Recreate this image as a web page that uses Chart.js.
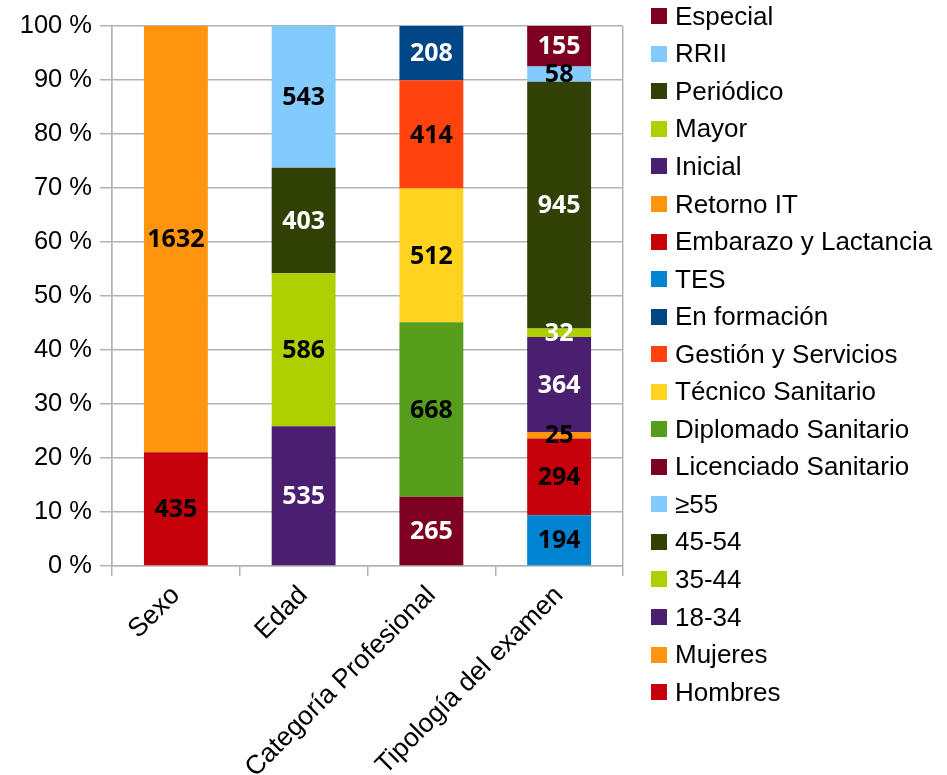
<!DOCTYPE html>
<html>
<head>
<meta charset="utf-8">
<script src="https://cdn.jsdelivr.net/npm/chart.js@4"></script>
<style>
    html, body { margin: 0; padding: 0; background: #fff; }
    #wrap { position: relative; width: 947px; height: 775px; }
    #legend { position: absolute; left: 651px; top: -2.5px; font: 26px "Liberation Sans", Arial, sans-serif; color: #000; }
    .legend-row { height: 37.55px; display: flex; align-items: center; white-space: nowrap; }
    .legend-box { width: 16px; height: 16px; margin-right: 8px; flex: none; }
</style>
</head>
<body>
<div id="wrap">
    <canvas id="chart" width="947" height="775"></canvas>
    <div id="legend"></div>
</div>
<script>
const categories = ['Sexo', 'Edad', 'Categoría Profesional', 'Tipología del examen'];

// stacked bottom -> top, one series per segment
const seriesNames = [
    'Hombres', 'Mujeres',
    '18-34', '35-44', '45-54', '≥55',
    'Licenciado Sanitario', 'Diplomado Sanitario', 'Técnico Sanitario', 'Gestión y Servicios', 'En formación',
    'TES', 'Embarazo y Lactancia', 'Retorno IT', 'Inicial', 'Mayor', 'Periódico', 'RRII', 'Especial'
];
const seriesCategory = [0, 0, 1, 1, 1, 1, 2, 2, 2, 2, 2, 3, 3, 3, 3, 3, 3, 3, 3];
const seriesCounts = [435, 1632, 535, 586, 403, 543, 265, 668, 512, 414, 208, 194, 294, 25, 364, 32, 945, 58, 155];

const yTicks = [0, 10, 20, 30, 40, 50, 60, 70, 80, 90, 100];

const seriesColors = [
    '#c5000b', '#ff950e',
    '#4b1f6f', '#aecf00', '#314004', '#83caff',
    '#7e0021', '#579d1c', '#ffd320', '#ff420e', '#004586',
    '#0084d1', '#c5000b', '#ff950e', '#4b1f6f', '#aecf00', '#314004', '#83caff', '#7e0021'
];
const labelColors = [
    '#000', '#000',
    '#fff', '#000', '#fff', '#000',
    '#fff', '#000', '#000', '#000', '#fff',
    '#000', '#000', '#000', '#fff', '#fff', '#fff', '#000', '#fff'
];

const gridGray = '#b3b3b3';
const PAD_LEFT = 0;

const totals = categories.map((c, ci) =>
    seriesCounts.reduce((sum, v, i) => seriesCategory[i] === ci ? sum + v : sum, 0));

const datasets = seriesNames.map((name, i) => {
    const ci = seriesCategory[i];
    return {
        label: name,
        data: categories.map((c, j) => j === ci ? seriesCounts[i] / totals[ci] * 100 : null),
        counts: categories.map((c, j) => j === ci ? seriesCounts[i] : null),
        labelColor: labelColors[i],
        backgroundColor: seriesColors[i],
        borderWidth: 0,
        categoryPercentage: 1,
        barPercentage: 0.5
    };
});

const barLabels = {
    id: 'barLabels',
    afterDatasetsDraw(chart) {
        const { ctx } = chart;
        ctx.save();
        ctx.font = 'bold 25px "Noto Sans", sans-serif';
        ctx.textAlign = 'center';
        ctx.textBaseline = 'middle';
        chart.data.datasets.forEach((ds, i) => {
            chart.getDatasetMeta(i).data.forEach((bar, j) => {
                const n = ds.counts[j];
                if (n == null) return;
                const p = bar.getCenterPoint();
                ctx.fillStyle = ds.labelColor;
                ctx.fillText(String(n), p.x, p.y + 1);
            });
        });
        ctx.restore();
    }
};

const chart = new Chart(document.getElementById('chart').getContext('2d'), {
    type: 'bar',
    data: { labels: categories, datasets },
    options: {
        responsive: false,
        animation: false,
        layout: { padding: { left: PAD_LEFT, top: 26, right: 324, bottom: 0 } },
        plugins: {
            legend: { display: false },
            tooltip: { enabled: false }
        },
        scales: {
            x: {
                stacked: true,
                offset: true,
                grid: {
                    offset: true,
                    drawOnChartArea: true,
                    color: (c) => (c.type === 'scale' || c.index === 0) ? gridGray : 'rgba(0,0,0,0)',
                    tickColor: gridGray,
                    tickLength: 10,
                    lineWidth: 1.5
                },
                border: { color: gridGray, width: 1.5 },
                ticks: {
                    color: '#000',
                    font: { family: '"Liberation Sans", Arial, sans-serif', size: 26.5 },
                    minRotation: 45,
                    maxRotation: 45,
                    autoSkip: false,
                    padding: 4
                },
                afterFit(scale) { scale.height = 209; }
            },
            y: {
                stacked: true,
                min: 0,
                max: 100,
                afterBuildTicks(scale) { scale.ticks = yTicks.map((v) => ({ value: v })); },
                grid: { color: gridGray, tickLength: 12, lineWidth: 1.5 },
                border: { color: gridGray, width: 1.5 },
                ticks: {
                    color: '#000',
                    padding: 8,
                    font: { family: '"Liberation Sans", Arial, sans-serif', size: 25.5 },
                    callback: (v) => v + ' %'
                },
                afterFit(scale) { scale.width = 112 - PAD_LEFT; }
            }
        }
    },
    plugins: [barLabels]
});

// legend, top entry = last series
const legend = document.getElementById('legend');
chart.data.datasets.slice().reverse().forEach((ds) => {
    const row = document.createElement('div');
    row.className = 'legend-row';
    row.innerHTML = `<span class="legend-box" style="background:${ds.backgroundColor}"></span><span>${ds.label}</span>`;
    legend.appendChild(row);
});
</script>
</body>
</html>
